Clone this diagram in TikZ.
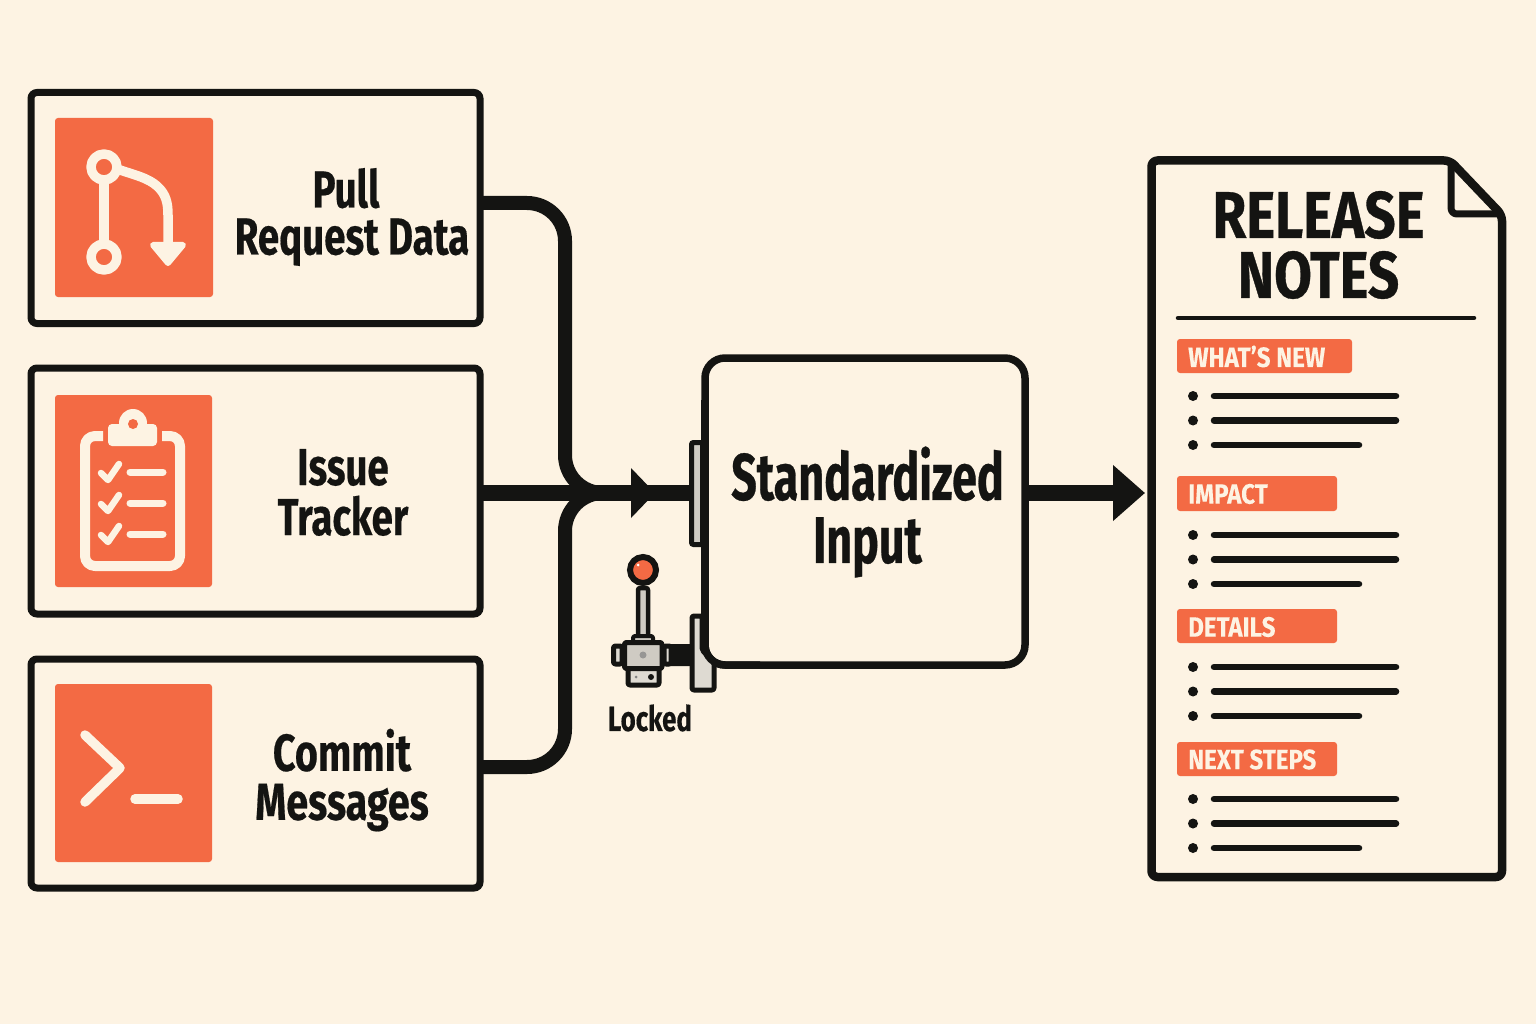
\documentclass[tikz,border=0pt]{standalone}
\usepackage{fontspec}
\usetikzlibrary{arrows.meta}
\newfontfamily\cond[FakeStretch=0.74,FakeBold=0.35]{Fira Sans}
\newfontfamily\condm[FakeStretch=0.76,FakeBold=0.35]{Fira Sans}
\newfontfamily\condn[FakeStretch=0.68,FakeBold=0.4]{Fira Sans}
\newfontfamily\condw[FakeStretch=0.83,FakeBold=0.5]{Fira Sans}
\newfontfamily\condt[FakeStretch=0.86,FakeBold=0.1]{Fira Sans}
\definecolor{bgc}{HTML}{FDF3E3}
\definecolor{ink}{HTML}{141412}
\definecolor{org}{HTML}{F36A44}
\definecolor{crm}{HTML}{FDF3E3}
\definecolor{gry}{HTML}{CFCBC3}
\definecolor{lgry}{HTML}{DEDAD2}
\tikzset{
  srcbox/.style={draw=ink,line width=7pt,rounded corners=6pt,fill=bgc,inner sep=0pt,outer sep=0pt},
  iconbg/.style={fill=org,rounded corners=3pt,inner sep=0pt,outer sep=0pt,draw=none},
  icl/.style={draw=crm,line width=9.5pt,line cap=round,line join=round},
  flow/.style={draw=ink,line width=14pt},
  flowh/.style={draw=ink,line width=15.5pt},
  lbl/.style={font=\cond\bfseries\fontsize{52}{49}\selectfont,text=ink,align=center,inner sep=0pt},
  tagb/.style={fill=org,rounded corners=3pt,inner sep=0pt,outer sep=0pt,anchor=north west},
  tagt/.style={font=\condt\bfseries\fontsize{28}{30}\selectfont,text=crm,anchor=west,inner sep=0pt},
  rule/.style={draw=ink,line width=6.5pt,line cap=round},
  bul/.style={circle,fill=ink,minimum size=10pt,inner sep=0pt},
  part/.style={draw=ink,line width=5pt,rounded corners=2pt,line join=round},
}
\begin{document}
\begin{tikzpicture}[x=1pt,y=-1pt]
\useasboundingbox (0,0) rectangle (1536,1024);
\fill[bgc] (0,0) rectangle (1536,1024);
% source boxes
\node[srcbox,minimum width=449pt,minimum height=231pt] (pr) at (255.5,208) {};
\node[srcbox,minimum width=449pt,minimum height=246pt] (it) at (255.5,491) {};
\node[srcbox,minimum width=449pt,minimum height=229pt] (cm) at (255.5,773.5) {};
% icon squares
\node[iconbg,minimum width=158pt,minimum height=179pt] (i1) at (134,207.5) {};
\node[iconbg,minimum width=157pt,minimum height=192pt] (i2) at (133.5,491) {};
\node[iconbg,minimum width=157pt,minimum height=178pt] (i3) at (133.5,773) {};
% icon 1
\draw[icl] (104,180) -- (104,244);
\draw[icl] (120,170) .. controls (135,175) and (148,178) .. (157,186) .. controls (166,194) and (168,203) .. (168,215) -- (168,245);
\draw[icl,fill=org] (104,167) circle (13);
\draw[icl,fill=org] (104,257) circle (13);
\fill[crm,draw=crm,line width=6pt,line join=round] (153,245) -- (183,245) -- (168,263) -- cycle;
% icon 2
\draw[icl,line width=10pt,line cap=butt,rounded corners=10pt] (103,436) -- (85,436) -- (85,566) -- (180,566) -- (180,436) -- (162,436);
\fill[crm,rounded corners=4pt] (108,424) rectangle (157,446);
\fill[crm] (133,423) circle (14);
\fill[org] (133,424) circle (5);
\foreach \yy in {473,504,535}{
  \draw[icl,line width=6.5pt] (101,\yy) -- (108,\yy+7) -- (119,\yy-9);
  \draw[icl,line width=7pt] (130,\yy-1) -- (163,\yy-1);
}
% icon 3
\draw[icl] (85,735) -- (120,768) -- (85,802);
\draw[icl] (135,799) -- (178,799);
% labels
\node[lbl,font=\cond\bfseries\fontsize{52}{47}\selectfont] (l1) at (352,217) {Pull\hspace*{12pt}\\Request Data};
\node[lbl,font=\cond\bfseries\fontsize{52}{50}\selectfont] (l2) at (343,492.5) {Issue\\Tracker};
\node[lbl,font=\condm\bfseries\fontsize{52}{49}\selectfont] (l3) at (342,780) {Commit\\Messages};
% standard input
\node[draw=ink,line width=7.5pt,rounded corners=20pt,fill=bgc,inner sep=0pt,outer sep=0pt,minimum width=320pt,minimum height=307pt] (std) at (865,511.5) {};
\node[lbl,font=\condn\bfseries\fontsize{66}{63}\selectfont] (s1) at (867.5,512) {Standardized\\Input};
% bars
\node[draw=ink,fill=gry,line width=5pt,rounded corners=2pt,inner sep=0pt,outer sep=0pt,minimum width=11pt,minimum height=102pt] (bar1) at (697,493.5) {};
\draw[draw=ink,fill=lgry,line width=5pt,line join=round,rounded corners=2pt] (692,616) -- (702,616) -- (702,650) -- (714,662) -- (714,690) -- (692,690) -- cycle;
\coordinate (barb) at (692,655);
% redraw std edge over the bars
\draw[ink,line width=7.5pt] (705,400) -- (705,645);
\draw[ink,line width=7.5pt,rounded corners=20pt] (705,630) -- (705,665) -- (760,665);
% connectors
\coordinate (j) at (565,493);
\coordinate (c1) at (480,203);
\coordinate (c2) at (480,493);
\coordinate (c3) at (480,767);
\draw[flow,rounded corners=38pt] (c1) -| (j) -- (bar1.west |- j);
\draw[flow,rounded corners=38pt] (c3) -| (j) -- (bar1.west |- j);
\draw[flowh] (c2) -- (bar1.west |- j);
\coordinate (hd) at (655,493);
\fill[ink] (631,468) -- (655,493) -- (631,518) -- cycle;
% lock
\fill[ink,rounded corners=2pt] (664,644) rectangle (692,666);
\draw[part,fill=gry,line width=4.5pt] (638,588) rectangle (648,637);
\draw[part,fill=gry,line width=4pt] (633,636) rectangle (653,646);
\draw[part,fill=lgry] (613.5,646) rectangle (622,664);
\draw[part,fill=lgry] (664,646) rectangle (671,664);
\draw[part,fill=lgry] (628,668) rectangle (659,685);
\draw[part,fill=gry] (624.5,642.5) rectangle (662,668.5);
\fill[gray!70!gry] (643,655) circle (3.5);
\fill[gray] (636,677) circle (1.5);
\fill[ink] (651,677) circle (3);
\draw[ink,line width=6pt,fill=org] (643,570) circle (13);
\fill[white] (638,565) circle (1.5);
\node[lbl,font=\cond\bfseries\fontsize{35}{37}\selectfont] (lk) at (650,718) {Locked};
% output arrow
\coordinate (docin) at (1145,493);
\draw[flowh,-{Triangle[length=32pt,width=54pt]}] (std.east |- docin) -- (docin);
% document
\draw[draw=ink,line width=8.5pt,fill=bgc,line join=round,rounded corners=6pt] (1151.5,160.5) -- (1450,160.5) -- (1502,215) -- (1502,877) -- (1151.5,877) -- cycle;
\draw[draw=ink,line width=7pt,line join=round,rounded corners=6pt] (1451,161) -- (1451,214) -- (1502,214);
\node[lbl,font=\condw\bfseries\fontsize{66}{60}\selectfont] (t1) at (1318.5,245) {RELEASE\\NOTES};
\draw[ink,line width=4.5pt,line cap=round] (1178,318) -- (1474,318);
% sections
\node[tagb,minimum width=175pt,minimum height=34pt] (a) at (1177,339) {};
\node[tagt] at (1188,356.5) {WHAT’S NEW};
\node[tagb,minimum width=160pt,minimum height=35pt] (b) at (1177,476) {};
\node[tagt] at (1188,494) {IMPACT};
\node[tagb,minimum width=160pt,minimum height=34pt] (c) at (1177,609) {};
\node[tagt] at (1188,627) {DETAILS};
\node[tagb,minimum width=160pt,minimum height=34pt] (d) at (1177,742) {};
\node[tagt] at (1188,759.5) {NEXT STEPS};
\foreach \yy in {396,535,667,799}{
  \node[bul] at (1193,\yy) {};
  \node[bul] at (1193,\yy+24.5) {};
  \node[bul] at (1193,\yy+49) {};
  \draw[rule] (1214,\yy) -- (1396,\yy);
  \draw[rule] (1214,\yy+24.5) -- (1396,\yy+24.5);
  \draw[rule] (1214,\yy+49) -- (1359,\yy+49);
}
\end{tikzpicture}
\end{document}
